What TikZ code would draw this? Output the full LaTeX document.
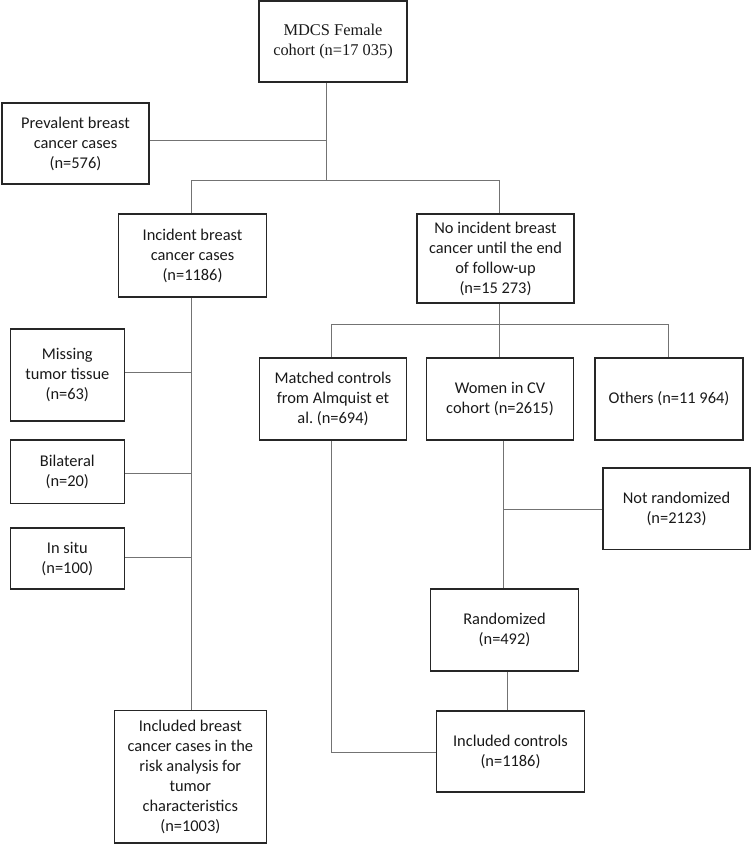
\documentclass[tikz,border=0pt]{standalone}
\usepackage{fontspec}
\setmainfont{Carlito}
\newfontfamily\serifface{Liberation Serif}
\begin{document}
\begin{tikzpicture}[x=1pt,y=-1pt,
  box/.style={draw=black!85,line width=1.5pt,align=center,inner sep=2pt,
    font=\fontsize{16.4}{20}\selectfont,text=black!90},
  conn/.style={draw=black!55,line width=1pt}]
\useasboundingbox (0,0) rectangle (751,844);
% boxes
\node[box,minimum width=148,minimum height=81,font=\serifface\fontsize{16.4}{20}\selectfont] (mdcs) at (333,41.5) {MDCS Female\\cohort (n=17 035)};
\node[box,minimum width=147,minimum height=81] (prev) at (75.5,143.5) {Prevalent breast\\cancer cases\\(n=576)};
\node[box,minimum width=148,minimum height=83] (inc) at (192.5,255.5) {Incident breast\\cancer cases\\(n=1186)};
\node[box,minimum width=157,minimum height=89] (noinc) at (495.5,258.5) {No incident breast\\cancer until the end\\of follow-up\\(n=15 273)};
\node[box,minimum width=147,minimum height=82] (match) at (333,399) {Matched controls\\from Almquist et\\al.\ (n=694)};
\node[box,minimum width=147,minimum height=82] (women) at (500,399) {Women in CV\\cohort (n=2615)};
\node[box,minimum width=148,minimum height=82] (others) at (669,399) {Others (n=11 964)};
\node[box,minimum width=114,minimum height=92] (miss) at (67.3,375) {Missing\\tumor tissue\\(n=63)};
\node[box,minimum width=114,minimum height=63.5] (bil) at (67.3,471.7) {Bilateral\\(n=20)};
\node[box,minimum width=114,minimum height=61] (insitu) at (67.3,558.5) {In situ\\(n=100)};
\node[box,minimum width=147,minimum height=81.5] (notrand) at (676.5,508.5) {Not randomized\\(n=2123)};
\node[box,minimum width=147.6,minimum height=82] (rand) at (504.5,630) {Randomized\\(n=492)};
\node[box,minimum width=147.6,minimum height=81] (inclc) at (510.5,751.7) {Included controls\\(n=1186)};
\node[box,minimum width=152,minimum height=132.7] (inclb) at (190.3,776.6) {Included breast\\cancer cases in the\\risk analysis for\\tumor\\characteristics\\(n=1003)};
% junctions
\coordinate (jtop) at (326,180);
\coordinate (jprev) at (326,140);
\coordinate (jl) at (191,180);
\coordinate (jr) at (499,180);
\coordinate (jmid) at (499,324);
\coordinate (jm) at (331,324);
\coordinate (jo) at (668.7,324);
\coordinate (jmiss) at (191,372.7);
\coordinate (jbil) at (191,473.7);
\coordinate (jins) at (191,557.7);
\coordinate (jnr) at (503.7,509.3);
\coordinate (jrc) at (507.3,700);
\coordinate (jmc) at (331,752.7);
% connectors
\draw[conn] (mdcs.south -| jtop) -- (jtop);
\draw[conn] (prev.east |- jprev) -- (jprev);
\draw[conn] (jl) -- (jr);
\draw[conn] (jl) -- (inc.north -| jl);
\draw[conn] (jr) -- (noinc.north -| jr);
\draw[conn] (noinc.south -| jmid) -- (jmid);
\draw[conn] (jm) -- (jo);
\draw[conn] (jm) -- (match.north -| jm);
\draw[conn] (jmid) -- (women.north -| jmid);
\draw[conn] (jo) -- (others.north -| jo);
\draw[conn] (inc.south -| jl) -- (inclb.north -| jl);
\draw[conn] (miss.east |- jmiss) -- (jmiss);
\draw[conn] (bil.east |- jbil) -- (jbil);
\draw[conn] (insitu.east |- jins) -- (jins);
\draw[conn] (women.south -| jnr) -- (rand.north -| jnr);
\draw[conn] (jnr) -- (notrand.west |- jnr);
\draw[conn] (rand.south -| jrc) -- (inclc.north -| jrc);
\draw[conn] (match.south -| jmc) -- (jmc) -- (inclc.west |- jmc);
\end{tikzpicture}
\end{document}
